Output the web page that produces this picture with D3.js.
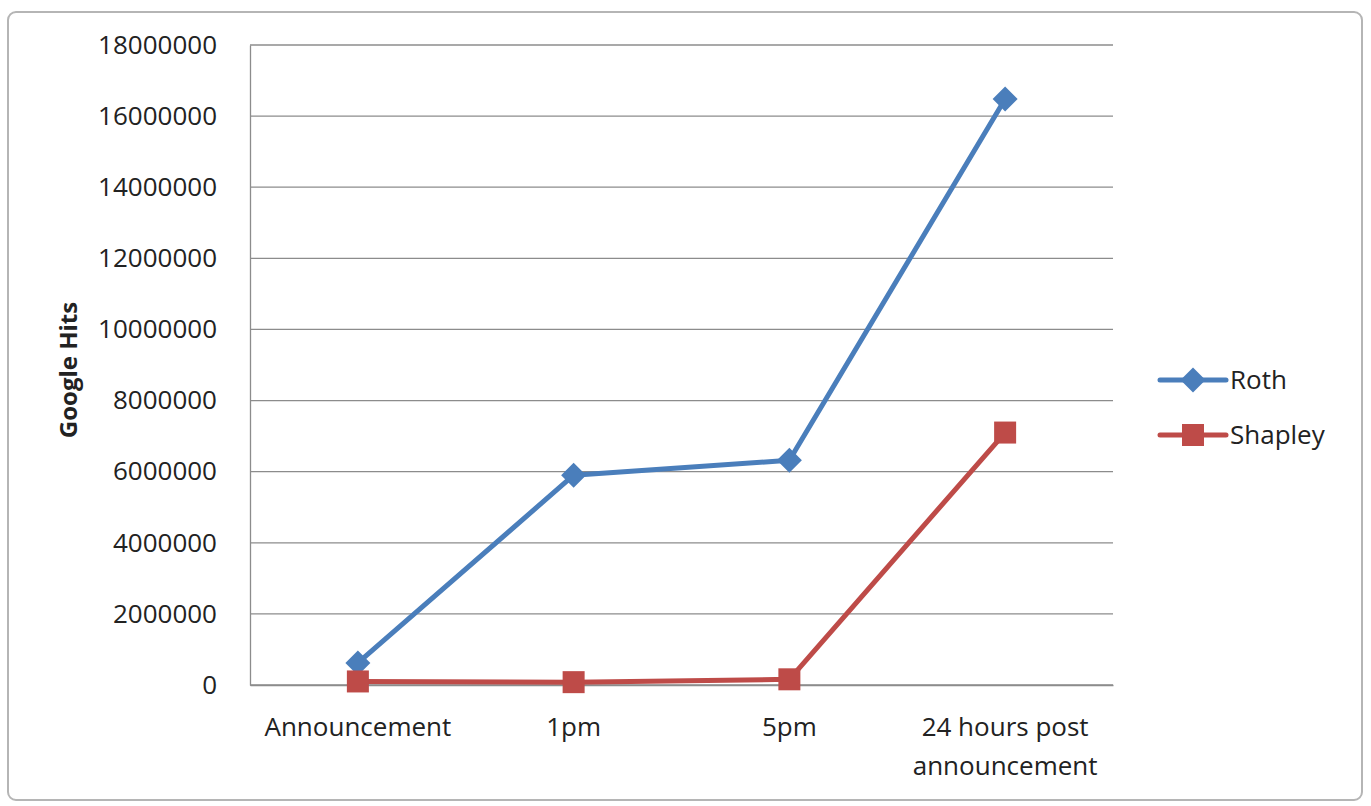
<!DOCTYPE html>
<html>
<head>
<meta charset="utf-8">
<script src="https://cdn.jsdelivr.net/npm/d3@7"></script>
<style>
  body { margin: 0; background: #fff; }
  svg text { font-family: "Open Sans", Lato, sans-serif; fill: #222; }
</style>
</head>
<body>
<svg id="chart" width="1371" height="806"></svg>
<script>
const categories = ["Announcement", "1pm", "5pm", "24 hours post announcement"];
const roth = [620000, 5900000, 6320000, 16480000];
const shapley = [100000, 80000, 160000, 7100000];
const yTicks = [0, 2000000, 4000000, 6000000, 8000000, 10000000, 12000000, 14000000, 16000000, 18000000];

const series = [
  { name: "Roth", values: roth, color: "#4a7ebb", marker: "diamond" },
  { name: "Shapley", values: shapley, color: "#be4b48", marker: "square" }
];

const margin = { left: 250, top: 45, right: 258, bottom: 121 };
const W = 1371, H = 806;
const width = W - margin.left - margin.right;
const height = H - margin.top - margin.bottom;

const svg = d3.select("#chart");

// frame
svg.append("rect")
  .attr("x", 8).attr("y", 12).attr("width", 1354).attr("height", 788)
  .attr("rx", 8)
  .attr("fill", "#fff").attr("stroke", "#b5b5b5").attr("stroke-width", 2);

const g = svg.append("g").attr("transform", `translate(${margin.left},${margin.top})`);

const x = d3.scaleBand().domain(categories).range([0, width]);
const y = d3.scaleLinear().domain([0, 18000000]).range([height, 0]);

// gridlines
g.append("g")
  .selectAll("line")
  .data(yTicks)
  .join("line")
  .attr("x1", 0).attr("x2", width)
  .attr("y1", d => y(d)).attr("y2", d => y(d))
  .attr("stroke", "#8c8c8c").attr("stroke-width", 1.3);

// y axis
const yAxis = d3.axisLeft(y).tickValues(yTicks).tickSize(0).tickPadding(33).tickFormat(d3.format("d"));
const yG = g.append("g").call(yAxis);
yG.select(".domain").attr("stroke", "#8c8c8c").attr("stroke-width", 1.3);
yG.selectAll("text").style("font-size", "26px").attr("fill", "#222");

// x axis
const xAxis = d3.axisBottom(x).tickSize(0).tickPadding(0);
const xG = g.append("g").attr("transform", `translate(0,${height})`).call(xAxis);
xG.select(".domain").attr("stroke", "#8c8c8c").attr("stroke-width", 1.3);
xG.selectAll(".tick text").remove();
xG.selectAll(".tick").each(function (d) {
  const t = d3.select(this).append("text")
    .attr("text-anchor", "middle")
    .style("font-size", "26px")
    .attr("fill", "#222");
  const lines = d === "24 hours post announcement" ? ["24 hours post", "announcement"] : [d];
  lines.forEach((l, i) => t.append("tspan").attr("x", 0).attr("y", 51 + i * 39).text(l));
});

// axis title
svg.append("text")
  .attr("transform", "rotate(-90)")
  .attr("x", -370).attr("y", 77)
  .attr("text-anchor", "middle")
  .style("font-size", "24px").style("font-weight", "bold")
  .text("Google Hits");

const cx = c => x(c) + x.bandwidth() / 2;
const line = d3.line().x((d, i) => cx(categories[i])).y(d => y(d));

const drawMarker = (sel, s, px, py) => {
  if (s.marker === "diamond") {
    sel.append("path")
      .attr("d", d3.symbol(d3.symbolDiamond2, 400)())
      .attr("transform", `translate(${px},${py})`)
      .attr("fill", s.color);
  } else {
    sel.append("rect")
      .attr("x", px - 11).attr("y", py - 11).attr("width", 22).attr("height", 22)
      .attr("fill", s.color);
  }
};

series.forEach(s => {
  g.append("path")
    .datum(s.values)
    .attr("d", line)
    .attr("fill", "none")
    .attr("stroke", s.color)
    .attr("stroke-width", 5)
    .attr("stroke-linejoin", "round");
  const mg = g.append("g");
  s.values.forEach((v, i) => drawMarker(mg, s, cx(categories[i]), y(v)));
});

// legend
const legend = svg.append("g").attr("transform", "translate(1160,380)");
series.forEach((s, i) => {
  const lg = legend.append("g").attr("transform", `translate(0,${i * 55})`);
  lg.append("line").attr("x1", 0).attr("x2", 66).attr("y1", 0).attr("y2", 0)
    .attr("stroke", s.color).attr("stroke-width", 5).attr("stroke-linecap", "round");
  drawMarker(lg, s, 33, 0);
  lg.append("text").attr("x", 70).attr("y", 9).style("font-size", "26px").text(s.name);
});
</script>
</body>
</html>
